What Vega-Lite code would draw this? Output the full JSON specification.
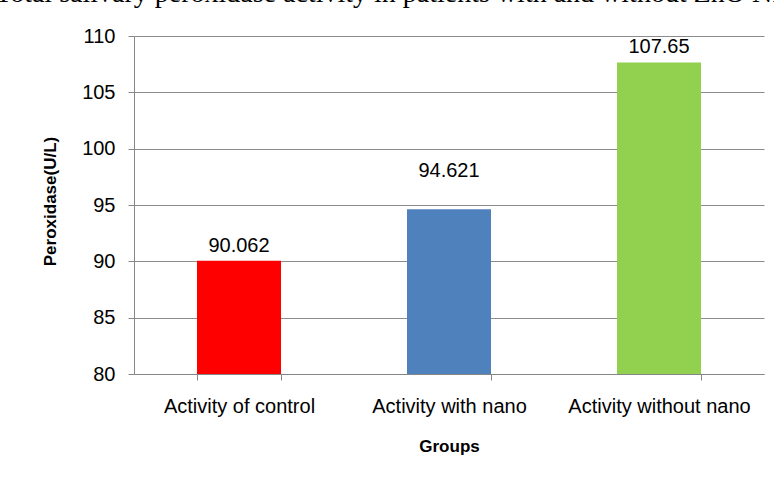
{
  "$schema": "https://vega.github.io/schema/vega-lite/v6.json",
  "autosize": {"type": "none"},
  "padding": {"left": 134, "top": 36, "right": 10, "bottom": 108},
  "width": 630,
  "height": 338,
  "background": "white",
  "title": {
    "text": "Total salivary peroxidase  activity  in  patients with and without ZnO NPs",
    "font": "Liberation Serif",
    "fontSize": 28,
    "fontWeight": "normal",
    "color": "black",
    "anchor": "start",
    "frame": "group",
    "orient": "top",
    "baseline": "alphabetic",
    "offset": -4,
    "dx": -139,
    "limit": 2000
  },
  "data": {
    "values": [
      {"group": "Activity of control", "peroxidase": 90.062},
      {"group": "Activity with nano", "peroxidase": 94.621},
      {"group": "Activity without nano", "peroxidase": 107.65}
    ]
  },
  "encoding": {
    "x": {
      "field": "group",
      "type": "nominal",
      "sort": null,
      "scale": {"paddingInner": 0.6, "paddingOuter": 0.3},
      "axis": {
        "title": "Groups",
        "labelAngle": 0,
        "labelLimit": 400,
        "tickBand": "extent",
        "labelFontSize": 20,
        "labelFont": "Liberation Sans",
        "labelColor": "black",
        "labelPadding": 16,
        "tickSize": 6,
        "tickColor": "#868686",
        "domainColor": "#868686",
        "titleFont": "Liberation Sans",
        "titleFontSize": 17,
        "titleFontWeight": "bold",
        "titleColor": "black",
        "titlePadding": 22
      }
    },
    "y": {
      "field": "peroxidase",
      "type": "quantitative",
      "scale": {"domain": [80, 110], "zero": false, "nice": false},
      "axis": {
        "title": "Peroxidase(U/L)",
        "values": [80, 85, 90, 95, 100, 105, 110],
        "grid": true,
        "gridColor": "#8c8c8c",
        "tickSize": 6,
        "tickColor": "#868686",
        "domainColor": "#868686",
        "labelFontSize": 20,
        "labelFont": "Liberation Sans",
        "labelColor": "black",
        "labelPadding": 13,
        "titleFont": "Liberation Sans",
        "titleFontSize": 17,
        "titleFontWeight": "bold",
        "titleColor": "black",
        "titleAngle": -90,
        "titleX": -84,
        "titleY": 165,
        "titleAlign": "center",
        "titleBaseline": "middle"
      }
    }
  },
  "layer": [
    {
      "mark": {"type": "bar", "clip": true},
      "encoding": {
        "color": {
          "field": "group",
          "type": "nominal",
          "scale": {
            "domain": ["Activity of control", "Activity with nano", "Activity without nano"],
            "range": ["#ff0000", "#4f81bd", "#92d050"]
          },
          "legend": null
        }
      }
    },
    {
      "mark": {
        "type": "text",
        "font": "Liberation Sans",
        "fontSize": 20,
        "color": "black",
        "baseline": "alphabetic",
        "dy": {"expr": "datum.group == 'Activity with nano' ? -32 : -9"}
      },
      "encoding": {
        "text": {"field": "peroxidase", "type": "quantitative"}
      }
    }
  ],
  "config": {
    "view": {"stroke": null},
    "axis": {"gridWidth": 1, "domainWidth": 1}
  }
}
